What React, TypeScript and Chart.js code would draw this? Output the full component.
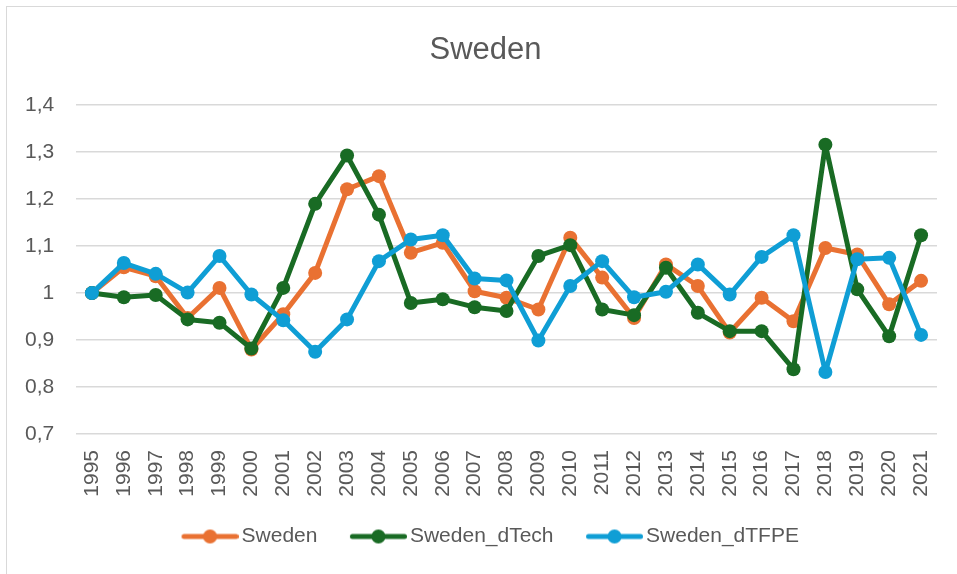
import React, { useEffect, useRef } from "react";
import { Chart, registerables } from "chart.js";

Chart.register(...registerables);

const years = [
  "1995", "1996", "1997", "1998", "1999", "2000", "2001", "2002", "2003", "2004",
  "2005", "2006", "2007", "2008", "2009", "2010", "2011", "2012", "2013", "2014",
  "2015", "2016", "2017", "2018", "2019", "2020", "2021",
];

const sweden = [
  1.0, 1.055, 1.036, 0.947, 1.011, 0.88, 0.955, 1.043, 1.221, 1.249,
  1.086, 1.107, 1.004, 0.99, 0.965, 1.118, 1.033, 0.947, 1.061, 1.015,
  0.916, 0.99, 0.94, 1.096, 1.082, 0.976, 1.026,
];

const swedenDTech = [
  1.0, 0.991, 0.996, 0.944, 0.937, 0.882, 1.011, 1.19, 1.293, 1.167,
  0.979, 0.987, 0.97, 0.962, 1.079, 1.102, 0.965, 0.953, 1.054, 0.958,
  0.919, 0.919, 0.838, 1.316, 1.008, 0.908, 1.123,
];

const swedenDTFPE = [
  1.0, 1.064, 1.041, 1.001, 1.079, 0.997, 0.942, 0.875, 0.944, 1.068,
  1.114, 1.123, 1.031, 1.027, 0.899, 1.015, 1.068, 0.991, 1.003, 1.061,
  0.997, 1.077, 1.123, 0.832, 1.072, 1.075, 0.911,
];

const seriesNames = ["Sweden", "Sweden_dTech", "Sweden_dTFPE"];
const seriesColors = ["#E97132", "#196B24", "#0F9ED5"];

const yTicks = [0.7, 0.8, 0.9, 1.0, 1.1, 1.2, 1.3, 1.4];
const yTickLabels = ["0,7", "0,8", "0,9", "1", "1,1", "1,2", "1,3", "1,4"];

const FONT = "'Liberation Sans', Arial, sans-serif";
const TEXT = "#595959";

function makeMarker(color: string): HTMLCanvasElement {
  const c = document.createElement("canvas");
  c.width = 74;
  c.height = 16;
  const ctx = c.getContext("2d")!;
  ctx.strokeStyle = color;
  ctx.lineWidth = 5;
  ctx.lineCap = "round";
  ctx.beginPath();
  ctx.moveTo(19.5, 8);
  ctx.lineTo(71.5, 8);
  ctx.stroke();
  ctx.fillStyle = color;
  ctx.beginPath();
  ctx.arc(45.5, 8, 7, 0, Math.PI * 2);
  ctx.fill();
  return c;
}

export default function App() {
  const ref = useRef<HTMLCanvasElement | null>(null);

  useEffect(() => {
    document.body.style.margin = "0";
    const canvas = ref.current;
    if (!canvas) return;
    const markers = seriesColors.map(makeMarker);
    const values = [sweden, swedenDTech, swedenDTFPE];

    const chart = new Chart(canvas, {
      type: "line",
      data: {
        labels: years,
        datasets: values.map((d, i) => ({
          label: seriesNames[i],
          data: d,
          borderColor: seriesColors[i],
          backgroundColor: seriesColors[i],
          pointBackgroundColor: seriesColors[i],
          pointBorderColor: seriesColors[i],
          borderWidth: 5,
          pointRadius: 7,
          pointBorderWidth: 0,
          pointHoverRadius: 7,
          borderJoinStyle: "round" as const,
          borderCapStyle: "round" as const,
          tension: 0,
          fill: false,
          order: 3 - i,
        })),
      },
      options: {
        animation: false,
        responsive: false,
        maintainAspectRatio: false,
        layout: { padding: { left: 34, right: 20, top: 0, bottom: 17 } },
        plugins: {
          title: {
            display: true,
            text: "Sweden",
            color: TEXT,
            font: { family: FONT, size: 31, weight: "normal" },
            padding: { top: 32, bottom: 36 },
          },
          legend: {
            position: "bottom",
            labels: {
              color: TEXT,
              font: { family: FONT, size: 21 },
              usePointStyle: true,
              pointStyleWidth: 59,
              boxHeight: 16,
              padding: 23,
              sort: (a: any, b: any) => a.datasetIndex - b.datasetIndex,
              generateLabels: (chart: any) => {
                const items = Chart.defaults.plugins.legend.labels.generateLabels(chart);
                return items.map((it: any) => ({
                  ...it,
                  pointStyle: markers[it.datasetIndex],
                }));
              },
            },
          },
          tooltip: { enabled: false },
        },
        scales: {
          x: {
            offset: true,
            grid: { display: false, drawTicks: false },
            border: { display: false },
            afterFit: (scale: any) => {
              scale.height = 69;
              scale.paddingRight = 0;
              scale.paddingLeft = 0;
            },
            ticks: {
              color: TEXT,
              font: { family: FONT, size: 21 },
              maxRotation: 90,
              minRotation: 90,
              autoSkip: false,
              padding: 16,
            },
          },
          y: {
            min: 0.7,
            max: 1.4,
            grid: { color: "#D9D9D9", lineWidth: 1.5, drawTicks: false },
            border: { display: false },
            afterFit: (scale: any) => {
              scale.width = 42;
            },
            afterBuildTicks: (scale: any) => {
              scale.ticks = yTicks.map((v) => ({ value: v }));
            },
            ticks: {
              color: TEXT,
              font: { family: FONT, size: 21 },
              mirror: true,
              crossAlign: "far",
              padding: -51,
              callback: (_v: any, i: number) => yTickLabels[i],
            },
          },
        },
      },
    });
    return () => chart.destroy();
  }, []);

  return (
    <div
      style={{
        position: "fixed",
        left: 0,
        top: 0,
        width: 957,
        height: 574,
        overflow: "hidden",
        background: "#fff",
      }}
    >
      <canvas ref={ref} width={957} height={574} style={{ display: "block" }} />
      <div
        style={{
          position: "absolute",
          left: 6,
          top: 6,
          width: 1000,
          height: 1000,
          border: "1px solid #D9D9D9",
          pointerEvents: "none",
        }}
      />
    </div>
  );
}
